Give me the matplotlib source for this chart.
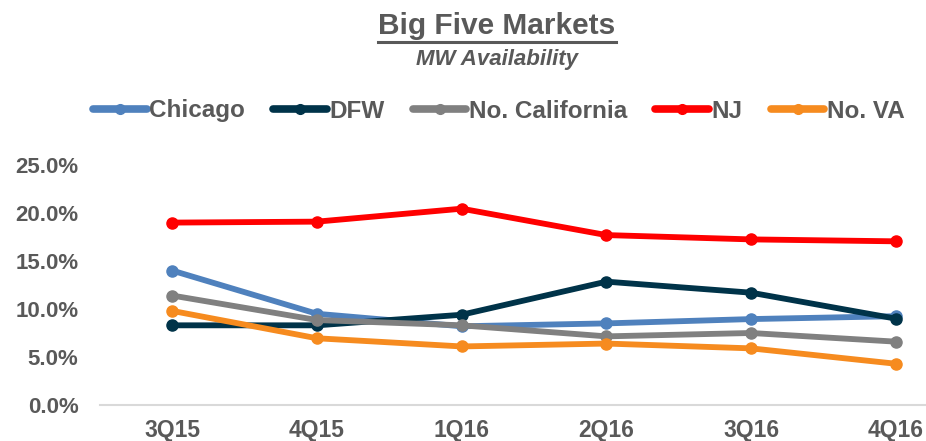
import matplotlib
matplotlib.use("Agg")
from matplotlib import pyplot as plt
from matplotlib.lines import Line2D

plt.rc("font", family="Liberation Sans", weight="bold")

quarters = ["3Q15", "4Q15", "1Q16", "2Q16", "3Q16", "4Q16"]
chicago = [14.0, 9.5, 8.2, 8.5, 8.95, 9.25]
dfw = [8.3, 8.3, 9.4, 12.85, 11.7, 9.0]
no_california = [11.4, 8.85, 8.3, 7.15, 7.5, 6.6]
nj = [19.0, 19.1, 20.45, 17.7, 17.25, 17.05]
no_va = [9.8, 6.95, 6.1, 6.4, 5.9, 4.3]

series = [
    ("Chicago", chicago, "#4F81BD"),
    ("DFW", dfw, "#003349"),
    ("No. California", no_california, "#808080"),
    ("NJ", nj, "#FF0000"),
    ("No. VA", no_va, "#F68B1F"),
]
text_color = "#595959"

fig = plt.figure(figsize=(9.26, 4.41), dpi=100)
ax = fig.add_axes([100 / 926, 1 - 405 / 441, 868 / 926, 240 / 441])

x = range(len(quarters))
for name, vals, col in series:
    ax.plot(x, [v / 100 for v in vals], color=col, lw=4.2, marker="o",
            markersize=8, label=name, solid_capstyle="round")

ax.set_xlim(-0.5, 5.5)
ax.set_ylim(0, 0.25)
ax.set_yticks([0, 0.05, 0.10, 0.15, 0.20, 0.25])
ax.set_yticklabels(["{:.1%}".format(t) for t in ax.get_yticks()])
ax.set_xticks(list(x))
ax.set_xticklabels(quarters)
ax.tick_params(axis="both", length=0, labelcolor=text_color)
ax.tick_params(axis="y", pad=15.5, labelsize=16)
ax.tick_params(axis="x", pad=10, labelsize=16.5)
for s in ["top", "right", "left"]:
    ax.spines[s].set_visible(False)
ax.spines["bottom"].set_color("#D9D9D9")
ax.spines["bottom"].set_linewidth(1.5)

handles = [Line2D([], [], color=c, lw=5.5, marker="o", markersize=7,
                  solid_capstyle="round") for _, _, c in series]
fig.legend(handles, [n for n, _, _ in series], loc="center",
           bbox_to_anchor=(499 / 926, 1 - 111 / 441), ncol=5, frameon=False,
           fontsize=17.5, handlelength=2.2, handletextpad=0.12,
           columnspacing=1.15, labelcolor=text_color)

title = fig.text(497 / 926, 1 - 26 / 441, "Big Five Markets", ha="center",
                 va="center", fontsize=21.5, color=text_color)
fig.text(497 / 926, 1 - 59 / 441, "MW Availability", ha="center", va="center",
         fontsize=16, style="italic", color=text_color)

# underline for the title
fig.canvas.draw()
bb = title.get_window_extent().transformed(fig.transFigure.inverted())
uy = 1 - 42 / 441
fig.add_artist(Line2D([bb.x0, bb.x1], [uy, uy], transform=fig.transFigure,
                      color=text_color, lw=2.2))

fig.savefig("out.png", dpi=100)
